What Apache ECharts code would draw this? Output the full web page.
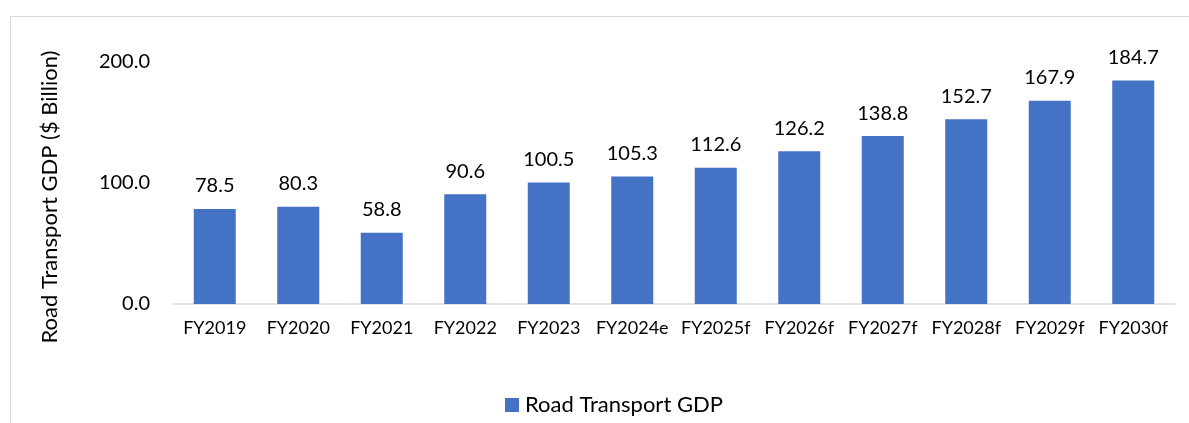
<!DOCTYPE html>
<html>
<head>
<meta charset="utf-8">
<script src="https://cdn.jsdelivr.net/npm/echarts@6/dist/echarts.min.js"></script>
<style>html,body{margin:0;padding:0;background:#fff}#c{width:1189px;height:423px}</style>
</head>
<body>
<div id="c"></div>
<script>
const categories = ['FY2019','FY2020','FY2021','FY2022','FY2023','FY2024e','FY2025f','FY2026f','FY2027f','FY2028f','FY2029f','FY2030f'];
const gdpValues = [78.5, 80.3, 58.8, 90.6, 100.5, 105.3, 112.6, 126.2, 138.8, 152.7, 167.9, 184.7];
const yTicks = [0, 100, 200];
const seriesName = 'Road Transport GDP';
const axisTitle = 'Road Transport GDP ($ Billion)';

const FONT = 'Lato';
const chart = echarts.init(document.getElementById('c'), null, {renderer: 'canvas'});
chart.setOption({
  animation: false,
  textStyle: {fontFamily: FONT},
  graphic: [
    {type: 'rect', shape: {x: 10.5, y: 16.5, width: 1300, height: 600}, style: {fill: null, stroke: '#d9d9d9', lineWidth: 1}, silent: true, z: -10},
    {type: 'text', x: 50, y: 197, rotation: Math.PI / 2,
     style: {text: axisTitle, fontFamily: FONT, fontSize: 22, fill: '#000', textAlign: 'center', textVerticalAlign: 'middle'}}
  ],
  grid: {left: 173, right: 14, top: 62, bottom: 119, containLabel: false},
  legend: {
    data: [seriesName], bottom: 2, left: 500, itemWidth: 14, itemHeight: 14, itemGap: 6,
    icon: 'rect', textStyle: {fontFamily: FONT, fontSize: 22, color: '#000', padding: [0, 0, 0, 1]}
  },
  xAxis: {
    type: 'category', data: categories,
    axisLine: {lineStyle: {color: '#d9d9d9', width: 1.5}},
    axisTick: {show: false},
    axisLabel: {fontFamily: FONT, fontSize: 18, color: '#000', margin: 15, interval: 0}
  },
  yAxis: {
    type: 'value', min: yTicks[0], max: yTicks[yTicks.length - 1], interval: 100,
    axisLine: {show: false}, axisTick: {show: false}, splitLine: {show: false},
    axisLabel: {fontFamily: FONT, fontSize: 20, color: '#000', margin: 23, formatter: v => v.toFixed(1)}
  },
  series: [{
    name: seriesName, type: 'bar', data: gdpValues, barWidth: 42,
    itemStyle: {color: '#4472C4'},
    label: {show: true, position: 'top', distance: 13, fontFamily: FONT, fontSize: 20, color: '#000', formatter: p => p.value.toFixed(1)}
  }]
});
</script>
</body>
</html>
